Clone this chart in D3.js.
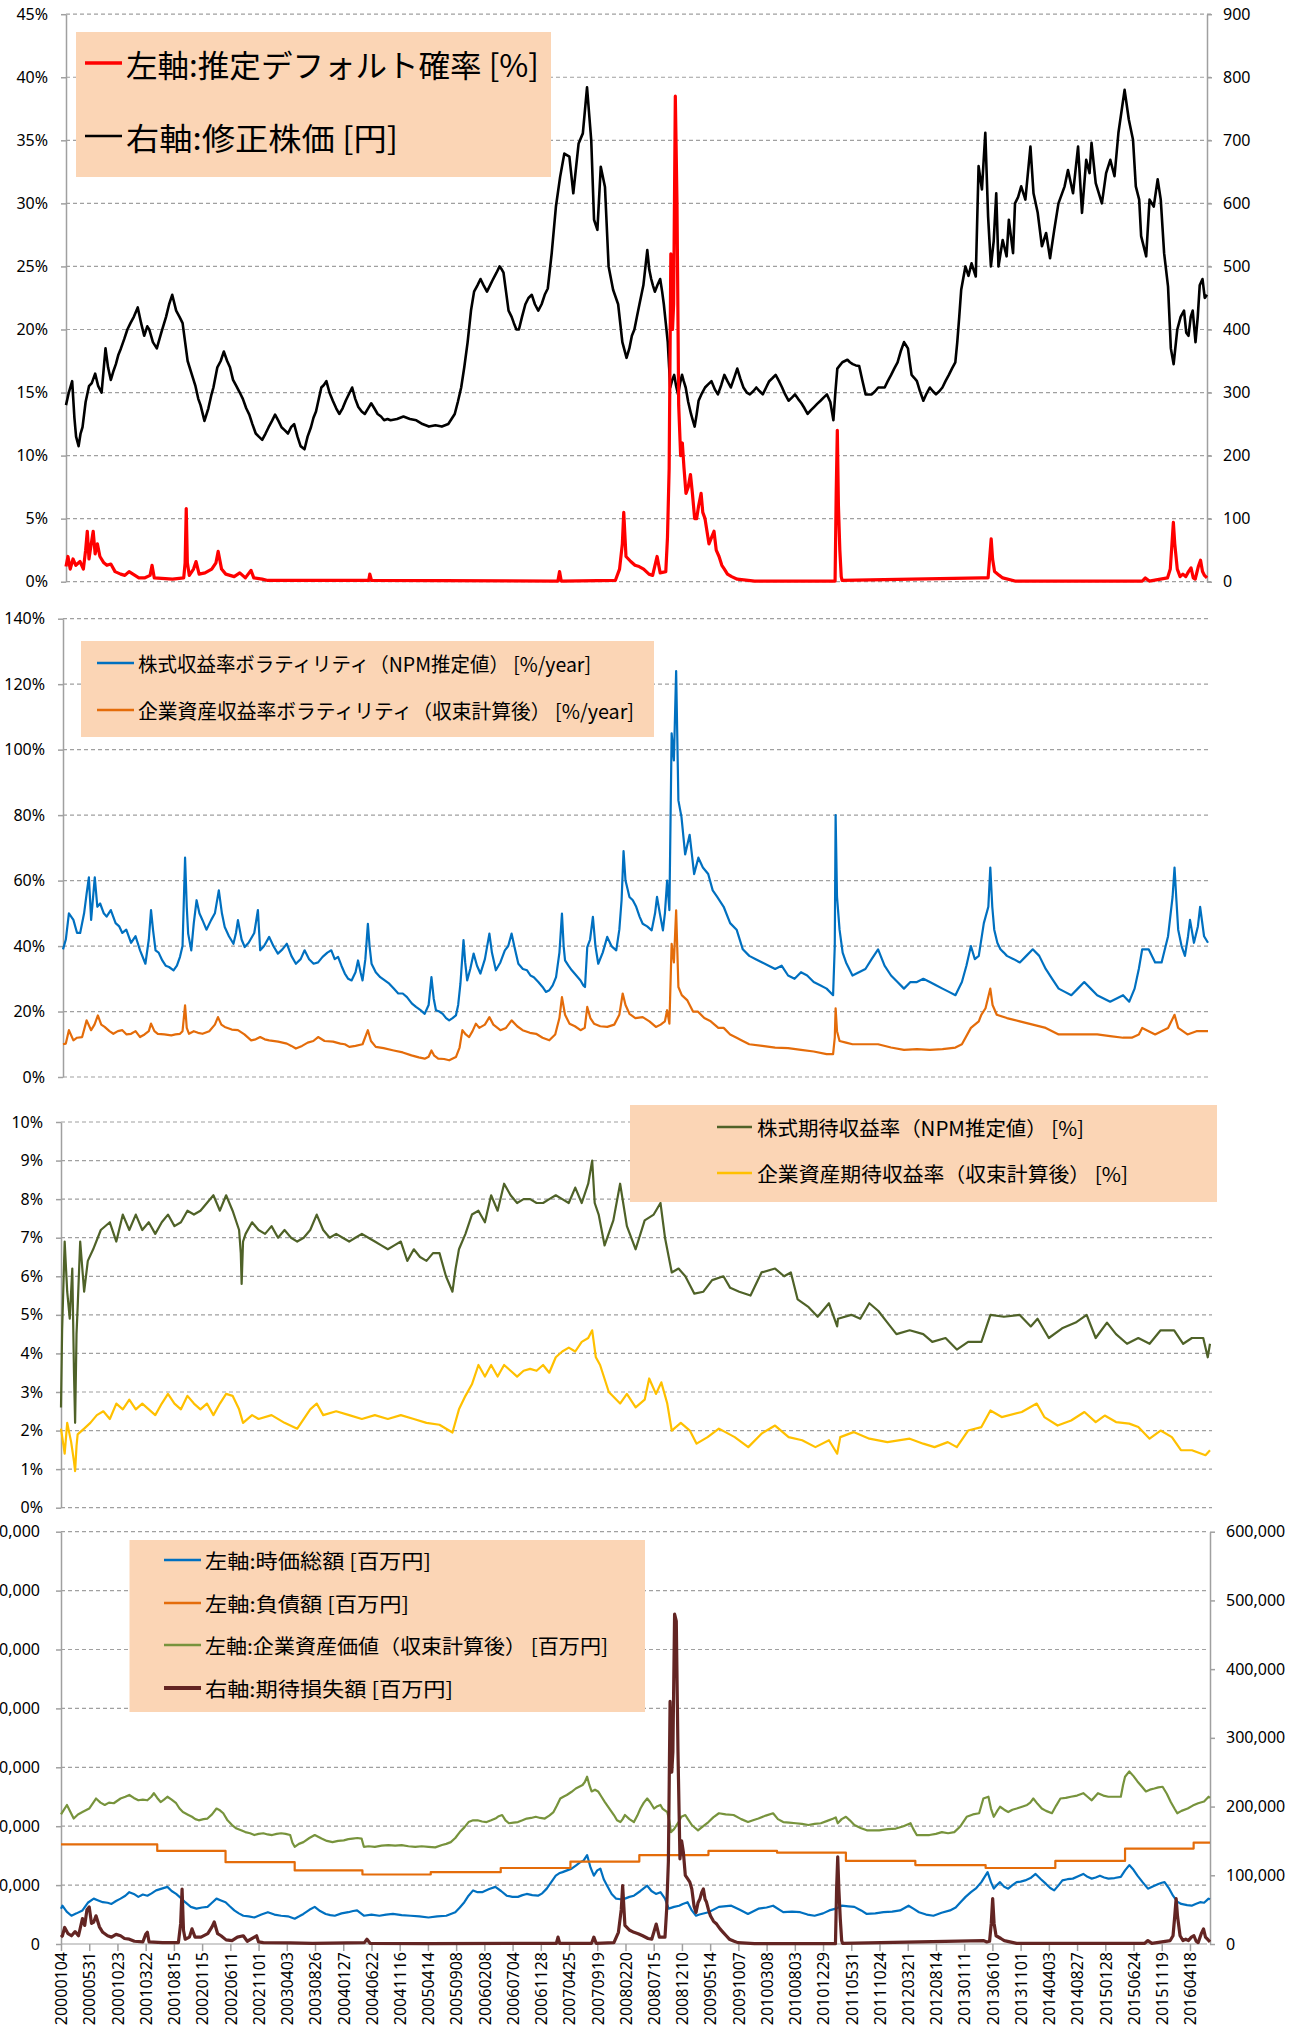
<!DOCTYPE html>
<html lang="ja">
<head>
<meta charset="utf-8">
<title>推定デフォルト確率と企業資産</title>
<script src="https://d3js.org/d3.v7.min.js"></script>
<style>
  body { margin: 0; background: #fff; }
  .tick text { font-family: "Noto Sans", sans-serif; font-size: 16px; fill: #000; }
  .legend text { font-family: "Noto Sans CJK JP", sans-serif; fill: #000; }
</style>
</head>
<body>
<svg width="1303" height="2026"></svg>
<script>
// ---- data (x = trading day index from 2000-01-04) ----
var nDays = 4072;
var dateLabels = ["20000104","20000531","20001023","20010322","20010815","20020115","20020611","20021101",
  "20030403","20030826","20040127","20040622","20041116","20050414","20050908","20060208","20060704",
  "20061128","20070425","20070919","20080220","20080715","20081210","20090514","20091007","20100308",
  "20100803","20101229","20110531","20111024","20120321","20120814","20130111","20130610","20131101",
  "20140403","20140827","20150128","20150624","20151119","20160418"];

// panel 1: 推定デフォルト確率 [%] (left) / 修正株価 [円] (right)
var defaultProb = [[0,1.2],[7,2.0],[15,1.0],[25,1.8],[35,1.3],[50,1.6],[62,1.0],[70,2.5],[76,4.0],[82,1.8],[90,3.0],[97,4.0],[104,2.2],[112,3.0],[121,2.0],[135,1.5],[146,1.3],[160,1.4],[175,0.8],[195,0.6],[210,0.5],[225,0.8],[239,0.6],[260,0.3],[280,0.3],[300,0.5],[307,1.3],[315,0.3],[380,0.2],[420,0.3],[425,1.5],[429,5.8],[433,1.5],[440,0.5],[455,1.0],[464,1.6],[475,0.6],[496,0.7],[520,1.0],[535,1.5],[543,2.4],[555,1.0],[570,0.6],[600,0.4],[620,0.7],[640,0.3],[660,0.9],[670,0.3],[700,0.2],[720,0.1],[1080,0.1],[1084,0.6],[1090,0.1],[1755,0.05],[1761,0.8],[1767,0.05],[1960,0.1],[1975,1.0],[1985,3.0],[1990,5.5],[1998,2.0],[2015,1.6],[2030,1.3],[2045,1.2],[2061,1.0],[2080,0.6],[2093,0.5],[2109,2.0],[2120,0.7],[2140,0.8],[2146,3.5],[2152,9],[2158,26],[2164,20],[2168,22],[2174,38.5],[2180,30],[2186,14],[2193,10],[2199,11],[2205,9],[2212,7],[2220,7.5],[2228,8.5],[2235,7],[2243,5],[2250,5],[2257,6],[2266,7],[2272,5.5],[2280,5],[2287,4],[2294,3],[2303,3.5],[2312,4],[2320,2.5],[2330,2],[2340,1.3],[2349,1],[2360,0.6],[2375,0.4],[2395,0.2],[2457,0.05],[2744,0.05],[2748,7],[2752,12],[2756,6],[2761,2.5],[2766,0.4],[2769,0.1],[3268,0.3],[3290,0.3],[3296,2],[3301,3.4],[3306,1.8],[3313,0.8],[3330,0.5],[3342,0.3],[3386,0.05],[3840,0.05],[3851,0.3],[3865,0.05],[3930,0.3],[3940,1],[3946,3],[3951,4.7],[3956,3],[3965,1],[3975,0.4],[3985,0.6],[3995,0.4],[4005,0.8],[4014,1.1],[4022,0.3],[4029,0.2],[4040,1.2],[4048,1.7],[4055,0.8],[4062,0.5],[4071,0.3]];

var stockPrice = [[0,280],[10,300],[22,318],[30,260],[36,230],[45,215],[52,235],[59,245],[70,285],[82,310],[92,315],[104,330],[115,310],[127,300],[141,370],[150,340],[160,320],[170,335],[178,345],[187,360],[196,370],[208,385],[219,400],[230,410],[242,420],[256,435],[268,410],[279,390],[290,405],[297,400],[310,380],[324,370],[340,395],[357,420],[368,440],[379,455],[393,430],[405,420],[416,410],[425,380],[434,350],[448,330],[462,310],[472,290],[480,280],[494,255],[508,275],[518,295],[526,308],[540,340],[552,350],[563,365],[575,350],[585,340],[596,320],[608,310],[620,300],[631,290],[643,275],[654,265],[665,250],[677,235],[688,230],[700,225],[712,235],[723,245],[735,255],[746,265],[758,255],[769,245],[781,240],[792,235],[803,245],[814,250],[826,230],[837,215],[851,210],[862,230],[874,245],[883,260],[892,270],[902,290],[911,308],[920,312],[929,318],[940,300],[952,287],[964,275],[975,266],[987,275],[998,287],[1010,298],[1021,308],[1032,290],[1043,277],[1055,270],[1066,266],[1078,275],[1089,283],[1100,275],[1112,266],[1124,262],[1135,256],[1147,258],[1158,256],[1181,258],[1204,262],[1227,258],[1250,256],[1272,250],[1295,246],[1318,248],[1341,246],[1364,250],[1387,266],[1398,285],[1410,308],[1421,340],[1433,380],[1445,430],[1456,460],[1468,470],[1479,480],[1490,470],[1502,460],[1513,470],[1524,480],[1536,490],[1547,500],[1555,495],[1561,490],[1570,460],[1579,430],[1590,420],[1598,410],[1607,400],[1616,400],[1627,420],[1639,440],[1650,450],[1662,455],[1673,440],[1685,430],[1697,440],[1708,455],[1719,465],[1733,521],[1748,595],[1763,642],[1778,679],[1796,674],[1810,616],[1829,695],[1844,711],[1859,784],[1874,700],[1884,574],[1896,558],[1908,658],[1923,626],[1936,500],[1952,463],[1970,440],[1985,380],[2000,355],[2010,370],[2019,390],[2028,400],[2037,420],[2046,440],[2060,470],[2074,526],[2081,495],[2088,480],[2094,470],[2101,460],[2110,470],[2120,480],[2127,460],[2133,440],[2140,410],[2147,380],[2152,340],[2156,308],[2163,320],[2170,328],[2177,310],[2184,297],[2191,315],[2198,328],[2204,318],[2211,308],[2220,285],[2230,266],[2237,255],[2243,246],[2250,265],[2257,287],[2268,298],[2280,308],[2291,313],[2303,318],[2315,305],[2326,297],[2338,312],[2349,328],[2360,318],[2372,308],[2383,322],[2395,338],[2406,322],[2417,308],[2429,300],[2440,297],[2452,302],[2463,308],[2475,302],[2486,297],[2498,308],[2509,318],[2521,323],[2532,328],[2544,318],[2555,308],[2566,297],[2578,287],[2590,292],[2601,297],[2612,290],[2624,283],[2635,275],[2646,266],[2658,272],[2669,277],[2680,282],[2692,287],[2703,292],[2715,297],[2727,285],[2738,256],[2745,300],[2752,338],[2761,343],[2770,348],[2779,350],[2788,352],[2797,348],[2807,345],[2818,343],[2830,342],[2841,320],[2853,297],[2864,297],[2875,297],[2887,302],[2898,308],[2910,308],[2921,308],[2932,318],[2944,328],[2955,338],[2967,348],[2978,365],[2990,380],[2997,375],[3004,370],[3010,350],[3017,328],[3027,323],[3036,318],[3047,302],[3059,287],[3070,298],[3082,308],[3093,302],[3104,297],[3116,302],[3127,308],[3138,318],[3150,328],[3161,338],[3173,348],[3180,380],[3187,420],[3194,463],[3209,500],[3220,485],[3231,505],[3246,484],[3256,659],[3268,622],[3280,712],[3290,579],[3300,500],[3310,540],[3319,616],[3327,500],[3342,542],[3356,516],[3364,574],[3379,521],[3386,600],[3397,610],[3408,627],[3423,606],[3441,690],[3452,616],[3467,585],[3482,532],[3497,553],[3511,513],[3526,558],[3541,600],[3563,627],[3575,653],[3593,616],[3611,690],[3625,585],[3640,669],[3652,648],[3659,696],[3674,632],[3696,600],[3711,648],[3726,669],[3741,643],[3755,712],[3777,780],[3792,733],[3807,701],[3817,627],[3829,606],[3836,548],[3854,516],[3866,606],[3881,595],[3895,638],[3906,606],[3918,521],[3932,468],[3942,370],[3952,345],[3965,400],[3977,420],[3989,430],[3997,395],[4005,390],[4013,420],[4020,430],[4030,380],[4038,420],[4045,470],[4055,480],[4063,450],[4071,455]];

// panel 2: ボラティリティ [%/year]
var equityVol = [[0,39],[10,42],[21,50],[37,48],[50,44],[61,44],[75,50],[84,56],[92,61],[100,48],[113,61],[122,52],[132,53],[145,50],[155,49],[170,51],[187,47],[200,46],[211,44],[225,45],[242,41],[258,43],[274,38.7],[293,34.6],[305,42],[313,51],[320,45],[329,38.7],[340,38],[353,35.6],[365,34],[377,33.6],[393,32.6],[405,34],[416,36.7],[425,40],[434,67],[440,52],[445,43.8],[456,38.7],[465,47],[475,54],[485,50],[496,47.9],[510,45],[527,48],[540,50],[554,57],[565,50],[575,45.8],[590,43],[606,40.7],[615,44],[622,47.9],[635,42],[646,39.7],[660,41],[680,44],[693,51],[701,38.7],[715,40],[733,42.8],[748,40],[764,37.7],[780,39],[796,40.7],[812,37],[828,34.6],[845,36],[859,38.7],[875,36],[891,34.6],[907,35],[923,36.7],[940,38],[954,38.7],[966,36],[978,36.7],[990,34],[1002,31.6],[1014,30],[1026,29.5],[1040,32],[1049,35.6],[1058,32],[1065,29.5],[1075,36],[1084,46.8],[1090,40],[1097,34.6],[1112,32],[1128,30.5],[1144,29.5],[1160,28.5],[1176,27],[1192,25.5],[1208,25.5],[1223,24.4],[1240,22.5],[1255,21.4],[1270,20.5],[1286,19.3],[1300,22],[1310,30.5],[1318,24],[1326,20.4],[1338,20],[1350,19.3],[1362,18],[1373,17.3],[1385,18],[1397,18.8],[1405,22],[1413,28.5],[1424,41.8],[1430,35],[1437,29.5],[1448,33],[1460,37.7],[1472,34],[1484,31.6],[1500,36],[1516,43.8],[1525,38],[1539,32.6],[1555,35],[1571,38.7],[1583,40],[1595,43.8],[1607,39],[1619,34.6],[1635,33],[1650,32.6],[1662,31],[1674,30.5],[1690,29],[1705,27.5],[1717,26],[1729,26.5],[1741,28],[1753,30.5],[1765,38],[1774,49.9],[1780,40],[1785,35.6],[1797,34],[1809,32.6],[1825,31],[1840,29.5],[1850,28],[1856,27.5],[1864,39.7],[1874,42],[1884,48.9],[1893,40],[1903,34.6],[1919,38],[1935,42.8],[1950,40],[1967,38.7],[1978,45],[1986,54],[1993,69],[2000,60],[2014,55],[2026,54],[2038,52],[2050,49],[2061,46.8],[2077,46],[2093,44.8],[2105,50],[2112,55],[2122,50],[2133,44.8],[2140,50],[2148,60],[2156,51],[2164,105],[2172,96.7],[2180,124],[2188,84.5],[2199,79.4],[2212,68],[2228,74],[2244,62],[2259,67],[2275,64],[2294,62],[2310,57],[2326,55],[2349,52],[2372,47],[2395,45],[2417,39],[2440,37],[2463,36],[2486,35],[2509,34],[2532,33],[2555,34],[2578,31],[2601,30],[2624,32],[2646,31],[2669,29],[2692,28],[2715,27],[2738,25],[2744,40],[2747,80],[2752,55],[2761,45],[2772,38],[2784,35],[2807,31],[2830,32],[2853,33],[2875,36],[2898,39],[2921,34],[2944,31],[2967,29],[2990,27],[3013,29],[3036,29],[3059,30],[3082,29],[3104,28],[3127,27],[3150,26],[3173,25],[3196,29],[3212,34],[3228,40],[3242,36],[3256,37],[3274,47],[3290,52],[3297,64],[3304,52],[3311,45],[3322,41],[3333,39],[3345,38],[3356,37],[3380,36],[3402,35],[3425,37],[3448,39],[3471,37],[3494,33],[3517,30],[3540,27],[3562,26],[3585,25],[3608,27],[3631,29],[3654,27],[3677,25],[3700,24],[3723,23],[3746,24],[3769,25],[3791,23],[3810,27],[3825,33],[3837,39],[3860,39],[3883,35],[3906,35],[3929,43],[3945,55],[3952,64],[3958,55],[3965,45],[3977,40],[3989,37],[4000,43],[4007,48],[4021,41],[4035,46],[4043,52],[4057,43],[4071,41]];

var assetVol = [[0,10],[10,10.2],[21,14.3],[37,11.2],[50,12],[68,12.2],[84,17.3],[100,14.3],[112,16],[124,18.8],[136,16],[148,15.3],[165,14],[179,13.2],[195,14],[211,14.3],[226,13],[242,13.2],[258,14],[274,12.2],[290,13],[305,14],[313,16.3],[325,14],[337,13.2],[360,13],[385,12.7],[400,13],[416,13.2],[425,14],[434,21.9],[440,15],[448,13.2],[465,14],[480,13.5],[496,13.2],[520,14],[540,16],[551,18.3],[563,16],[575,15.3],[600,14.5],[622,14.3],[645,13],[669,11.2],[685,11.5],[701,12.2],[717,11.5],[733,11.2],[765,10.8],[796,10.2],[812,9.5],[828,8.7],[850,9.5],[870,10.5],[890,11],[907,12.2],[930,11],[960,10.8],[986,10.2],[1002,10],[1018,9.2],[1040,9.5],[1065,10],[1084,14.3],[1095,11],[1112,9.2],[1140,8.8],[1176,8.1],[1208,7.5],[1239,6.6],[1265,6],[1286,5.6],[1300,6.2],[1310,8.1],[1320,6.5],[1334,5.6],[1355,5.5],[1373,5.1],[1397,6.1],[1410,9],[1420,14.3],[1432,13],[1444,12.2],[1456,14],[1468,16.3],[1480,15],[1500,16],[1516,18.3],[1530,16],[1555,14.3],[1575,15],[1595,17.3],[1615,15.5],[1634,14.3],[1660,13.5],[1682,13.2],[1705,12],[1729,11.2],[1750,13],[1765,18],[1774,24.4],[1785,19],[1801,16.3],[1820,15.5],[1840,14.3],[1855,15],[1864,21.4],[1875,18],[1888,16.3],[1910,15.5],[1935,15.3],[1960,16],[1978,19],[1990,25.5],[2000,22],[2014,19.3],[2035,18],[2061,18.3],[2085,17],[2108,15.3],[2125,16],[2140,17],[2148,20.4],[2156,16.3],[2164,40.7],[2172,35],[2180,50.9],[2188,27.5],[2200,25],[2220,23.4],[2240,20],[2257,20],[2280,18],[2303,17],[2330,15],[2349,15],[2372,13],[2395,12],[2417,11],[2440,10],[2486,9.5],[2532,9],[2578,8.8],[2624,8.3],[2669,7.8],[2715,7],[2738,7],[2744,12],[2747,21],[2752,14],[2761,11],[2784,10.5],[2807,10],[2853,10],[2898,10],[2944,9],[2990,8.3],[3036,8.5],[3082,8.3],[3127,8.5],[3173,9],[3196,10],[3228,15],[3256,17],[3265,19],[3280,21],[3297,27],[3305,22],[3320,19],[3356,18],[3402,17],[3448,16],[3494,15],[3540,13],[3585,13],[3631,13],[3677,13],[3723,12.5],[3769,12],[3800,12],[3825,13],[3837,15],[3883,13],[3929,15],[3952,19],[3965,15],[3998,13],[4030,14],[4071,14]];

// panel 3: 期待収益率 [%]
var equityRet = [[0,2.6],[4,4.6],[13,6.9],[22,5.6],[31,4.9],[40,6.2],[46,3.5],[50,2.2],[55,4.5],[59,5.2],[68,6.9],[82,5.6],[95,6.4],[114,6.7],[141,7.2],[173,7.4],[196,6.9],[219,7.6],[242,7.2],[265,7.6],[288,7.2],[311,7.4],[334,7.1],[357,7.4],[379,7.6],[402,7.3],[425,7.4],[448,7.7],[471,7.6],[494,7.7],[517,7.9],[540,8.1],[563,7.7],[585,8.1],[608,7.7],[631,7.2],[637,6.6],[640,5.8],[645,6.9],[654,7.1],[677,7.4],[700,7.2],[723,7.1],[746,7.3],[769,7.0],[792,7.2],[815,7.0],[837,6.9],[860,7.0],[883,7.2],[906,7.6],[929,7.2],[952,7.0],[975,7.1],[998,7.0],[1021,6.9],[1043,7.0],[1066,7.1],[1089,7.0],[1112,6.9],[1135,6.8],[1158,6.7],[1181,6.8],[1204,6.9],[1227,6.4],[1250,6.7],[1272,6.5],[1295,6.4],[1318,6.6],[1341,6.6],[1364,6.0],[1387,5.6],[1398,6.2],[1410,6.7],[1433,7.1],[1456,7.6],[1479,7.7],[1502,7.4],[1524,8.1],[1547,7.7],[1570,8.4],[1593,8.1],[1616,7.9],[1639,8.0],[1662,8.0],[1685,7.9],[1708,7.9],[1730,8.0],[1753,8.1],[1776,8.0],[1799,7.9],[1822,8.3],[1845,7.9],[1868,8.4],[1882,9.0],[1891,7.9],[1905,7.6],[1926,6.8],[1957,7.45],[1981,8.4],[2005,7.3],[2036,6.7],[2068,7.45],[2100,7.6],[2124,7.9],[2140,7.0],[2164,6.1],[2188,6.2],[2212,6.0],[2244,5.55],[2276,5.6],[2307,5.9],[2347,6.0],[2371,5.7],[2403,5.6],[2443,5.5],[2482,6.1],[2530,6.2],[2562,6.0],[2586,6.1],[2610,5.4],[2649,5.2],[2681,4.95],[2721,5.3],[2750,4.7],[2753,4.9],[2800,5.0],[2832,4.9],[2864,5.3],[2896,5.1],[2928,4.8],[2960,4.5],[3007,4.6],[3055,4.5],[3087,4.3],[3134,4.4],[3174,4.1],[3214,4.3],[3261,4.3],[3293,5.0],[3341,4.95],[3396,5.0],[3436,4.7],[3460,4.9],[3500,4.4],[3547,4.65],[3595,4.8],[3634,5.0],[3666,4.4],[3706,4.8],[3738,4.5],[3777,4.25],[3817,4.4],[3857,4.25],[3896,4.6],[3944,4.6],[3976,4.25],[4007,4.4],[4047,4.4],[4063,3.9],[4071,4.25]];

var assetRet = [[0,2.05],[13,1.4],[22,2.2],[36,1.7],[46,1.2],[50,0.95],[55,1.6],[59,1.9],[82,2.05],[104,2.2],[127,2.4],[150,2.5],[173,2.3],[196,2.7],[219,2.55],[242,2.8],[265,2.55],[288,2.7],[311,2.55],[334,2.4],[357,2.7],[379,2.95],[402,2.7],[425,2.55],[448,2.9],[471,2.7],[494,2.55],[517,2.7],[540,2.4],[563,2.7],[585,2.95],[608,2.9],[631,2.55],[645,2.2],[677,2.4],[700,2.3],[746,2.4],[792,2.2],[837,2.05],[883,2.55],[906,2.7],[929,2.4],[975,2.5],[1021,2.4],[1066,2.3],[1112,2.4],[1158,2.3],[1204,2.4],[1250,2.3],[1295,2.2],[1341,2.15],[1387,1.95],[1410,2.55],[1433,2.9],[1456,3.2],[1479,3.7],[1502,3.4],[1524,3.7],[1547,3.4],[1570,3.7],[1593,3.55],[1616,3.4],[1639,3.55],[1662,3.6],[1685,3.55],[1708,3.7],[1730,3.5],[1753,3.9],[1776,4.05],[1799,4.15],[1822,4.05],[1845,4.3],[1868,4.4],[1882,4.6],[1895,3.9],[1910,3.7],[1941,3.0],[1981,2.7],[2005,2.95],[2036,2.6],[2068,2.8],[2084,3.35],[2108,2.95],[2127,3.25],[2148,2.7],[2164,2.0],[2196,2.2],[2228,2.0],[2252,1.66],[2291,1.83],[2331,2.05],[2387,1.83],[2435,1.57],[2482,1.92],[2530,2.13],[2578,1.83],[2626,1.75],[2673,1.57],[2721,1.75],[2750,1.4],[2761,1.83],[2808,1.96],[2864,1.79],[2928,1.7],[3007,1.79],[3055,1.66],[3095,1.57],[3142,1.7],[3174,1.57],[3214,2.0],[3261,2.09],[3293,2.52],[3333,2.35],[3404,2.48],[3457,2.7],[3484,2.35],[3531,2.13],[3579,2.26],[3626,2.48],[3666,2.22],[3698,2.39],[3738,2.22],[3785,2.18],[3817,2.09],[3857,1.79],[3896,2.0],[3936,1.83],[3968,1.49],[4007,1.49],[4055,1.36],[4071,1.49]];

// panel 4: [百万円]  left axis in units of 1,000,000, right axis in thousands
var marketCap = [[0,0.6],[5,0.65],[20,0.55],[37,0.48],[55,0.52],[76,0.57],[95,0.7],[116,0.77],[132,0.74],[148,0.71],[165,0.7],[179,0.68],[195,0.73],[211,0.77],[228,0.82],[242,0.88],[258,0.85],[274,0.80],[290,0.84],[306,0.82],[321,0.86],[337,0.91],[357,0.94],[377,0.97],[392,0.9],[408,0.85],[425,0.78],[440,0.71],[460,0.63],[480,0.60],[500,0.62],[519,0.63],[535,0.7],[551,0.77],[567,0.74],[583,0.71],[598,0.64],[614,0.57],[630,0.52],[646,0.48],[665,0.47],[685,0.45],[710,0.5],[733,0.54],[756,0.5],[780,0.48],[804,0.47],[828,0.43],[844,0.47],[859,0.51],[880,0.58],[899,0.63],[918,0.56],[938,0.51],[954,0.49],[970,0.48],[994,0.52],[1018,0.54],[1035,0.56],[1049,0.57],[1073,0.48],[1100,0.5],[1128,0.48],[1152,0.5],[1176,0.51],[1207,0.49],[1239,0.48],[1270,0.47],[1302,0.45],[1333,0.47],[1365,0.48],[1397,0.54],[1413,0.62],[1429,0.71],[1444,0.82],[1460,0.91],[1476,0.88],[1492,0.88],[1515,0.93],[1539,0.97],[1559,0.9],[1579,0.82],[1599,0.8],[1619,0.80],[1635,0.83],[1650,0.85],[1670,0.83],[1690,0.82],[1705,0.86],[1721,0.94],[1737,1.05],[1753,1.16],[1765,1.2],[1777,1.22],[1793,1.25],[1809,1.28],[1824,1.33],[1840,1.39],[1852,1.42],[1864,1.51],[1876,1.3],[1888,1.16],[1900,1.25],[1911,1.28],[1923,1.1],[1935,0.99],[1951,0.85],[1967,0.77],[1982,0.76],[1998,0.77],[2014,0.8],[2030,0.82],[2053,0.9],[2077,0.99],[2092,0.9],[2108,0.85],[2124,0.88],[2140,0.77],[2153,0.6],[2172,0.63],[2190,0.65],[2203,0.68],[2220,0.71],[2235,0.57],[2250,0.48],[2262,0.5],[2294,0.54],[2331,0.63],[2375,0.65],[2405,0.58],[2434,0.51],[2471,0.60],[2500,0.62],[2523,0.65],[2559,0.54],[2590,0.55],[2619,0.54],[2645,0.5],[2670,0.48],[2700,0.52],[2722,0.57],[2745,0.6],[2766,0.65],[2790,0.64],[2811,0.63],[2835,0.57],[2855,0.51],[2885,0.52],[2914,0.54],[2945,0.55],[2973,0.57],[3003,0.65],[3020,0.6],[3040,0.54],[3065,0.5],[3091,0.48],[3120,0.53],[3150,0.57],[3170,0.62],[3187,0.71],[3205,0.8],[3224,0.88],[3243,0.95],[3261,1.05],[3283,1.22],[3295,1.05],[3305,0.94],[3316,1.0],[3327,1.05],[3342,0.97],[3356,0.94],[3371,1.0],[3386,1.05],[3400,1.06],[3416,1.08],[3435,1.12],[3453,1.19],[3472,1.1],[3490,1.02],[3505,0.95],[3519,0.91],[3535,1.0],[3548,1.08],[3566,1.1],[3585,1.11],[3604,1.15],[3622,1.19],[3637,1.14],[3652,1.11],[3666,1.13],[3681,1.16],[3696,1.13],[3711,1.11],[3733,1.12],[3755,1.14],[3770,1.25],[3785,1.34],[3800,1.26],[3814,1.16],[3832,1.05],[3851,0.94],[3870,0.98],[3888,1.02],[3900,1.04],[3910,1.05],[3925,0.95],[3940,0.82],[3955,0.72],[3969,0.68],[3990,0.66],[4006,0.65],[4020,0.68],[4036,0.71],[4050,0.7],[4066,0.77],[4071,0.76]];

// 負債額: value holds from each start day until the next one
var liabilitySteps = [[0,1.69],[341,1.58],[583,1.39],[828,1.25],[1068,1.18],[1310,1.22],[1558,1.29],[1805,1.40],[2049,1.51],[2294,1.58],[2537,1.55],[2781,1.41],[3027,1.34],[3276,1.29],[3523,1.41],[3770,1.62],[4013,1.72]];

var assetValue = [[0,2.2],[5,2.24],[21,2.36],[45,2.13],[60,2.2],[76,2.24],[100,2.30],[124,2.47],[140,2.4],[155,2.36],[170,2.4],[187,2.39],[211,2.47],[228,2.5],[242,2.53],[258,2.48],[274,2.44],[290,2.45],[306,2.44],[320,2.5],[329,2.56],[341,2.48],[353,2.41],[365,2.45],[377,2.50],[392,2.45],[408,2.39],[420,2.3],[432,2.24],[448,2.2],[464,2.16],[476,2.12],[488,2.10],[505,2.12],[519,2.13],[535,2.2],[551,2.30],[563,2.27],[575,2.22],[590,2.10],[606,2.02],[622,1.96],[638,1.93],[653,1.90],[670,1.88],[685,1.85],[700,1.87],[717,1.88],[732,1.86],[748,1.85],[764,1.87],[780,1.88],[796,1.87],[812,1.85],[820,1.72],[828,1.65],[843,1.7],[859,1.73],[880,1.8],[899,1.85],[911,1.82],[923,1.79],[942,1.75],[962,1.73],[982,1.75],[1002,1.76],[1018,1.78],[1033,1.79],[1050,1.8],[1065,1.79],[1073,1.65],[1090,1.66],[1112,1.65],[1136,1.67],[1160,1.68],[1184,1.67],[1207,1.68],[1231,1.66],[1255,1.65],[1278,1.66],[1302,1.65],[1326,1.64],[1350,1.68],[1365,1.7],[1381,1.73],[1397,1.8],[1413,1.90],[1429,1.98],[1444,2.07],[1460,2.1],[1476,2.10],[1492,2.08],[1508,2.07],[1524,2.1],[1539,2.13],[1551,2.17],[1563,2.19],[1575,2.1],[1587,2.05],[1603,2.06],[1619,2.07],[1635,2.1],[1650,2.13],[1666,2.14],[1682,2.16],[1698,2.14],[1714,2.13],[1730,2.18],[1745,2.24],[1757,2.35],[1769,2.47],[1780,2.5],[1792,2.53],[1808,2.58],[1824,2.64],[1836,2.67],[1848,2.70],[1856,2.75],[1864,2.84],[1872,2.7],[1880,2.59],[1892,2.62],[1903,2.59],[1915,2.5],[1927,2.41],[1943,2.3],[1959,2.19],[1970,2.1],[1982,2.07],[1990,2.12],[1998,2.19],[2014,2.12],[2030,2.07],[2042,2.18],[2053,2.30],[2065,2.4],[2077,2.47],[2087,2.41],[2101,2.30],[2113,2.34],[2124,2.36],[2131,2.3],[2148,2.24],[2155,2.1],[2161,1.90],[2172,1.95],[2188,2.07],[2198,2.16],[2212,2.19],[2220,2.13],[2235,2.02],[2247,1.97],[2257,1.93],[2270,1.98],[2294,2.07],[2311,2.15],[2331,2.22],[2355,2.2],[2383,2.19],[2410,2.12],[2434,2.07],[2452,2.1],[2471,2.13],[2497,2.18],[2523,2.22],[2540,2.12],[2559,2.07],[2580,2.06],[2604,2.05],[2625,2.04],[2648,2.02],[2670,2.04],[2692,2.05],[2715,2.09],[2737,2.13],[2745,2.15],[2752,2.05],[2766,2.12],[2781,2.16],[2795,2.1],[2811,2.02],[2833,1.97],[2855,1.93],[2877,1.93],[2899,1.93],[2930,1.95],[2958,1.96],[2985,2.0],[3010,2.05],[3020,1.95],[3032,1.85],[3055,1.85],[3077,1.85],[3100,1.87],[3121,1.90],[3143,1.88],[3165,1.90],[3187,2.0],[3209,2.16],[3231,2.2],[3253,2.22],[3268,2.47],[3286,2.50],[3295,2.3],[3305,2.16],[3316,2.25],[3327,2.33],[3342,2.28],[3356,2.24],[3371,2.28],[3386,2.30],[3405,2.33],[3423,2.36],[3434,2.4],[3445,2.47],[3460,2.38],[3475,2.30],[3490,2.26],[3511,2.22],[3526,2.35],[3541,2.47],[3560,2.48],[3578,2.50],[3600,2.52],[3622,2.56],[3637,2.5],[3652,2.44],[3663,2.5],[3674,2.56],[3693,2.52],[3711,2.50],[3733,2.5],[3755,2.50],[3763,2.7],[3770,2.84],[3785,2.93],[3800,2.85],[3814,2.76],[3830,2.67],[3844,2.59],[3858,2.62],[3874,2.64],[3888,2.66],[3903,2.67],[3918,2.55],[3932,2.41],[3945,2.3],[3955,2.22],[3970,2.26],[3992,2.30],[4010,2.35],[4029,2.39],[4050,2.42],[4066,2.50],[4071,2.48]];

var expectedLoss = [[0,10],[5,12],[13,24],[25,15],[37,12],[50,18],[62,12],[76,37],[84,27],[92,50],[100,54],[108,30],[116,32],[124,41],[136,25],[148,17],[165,12],[179,10],[195,14],[211,12],[225,8],[242,7],[260,4],[290,3],[300,14],[306,17],[312,3],[360,2],[416,2],[424,30],[429,80],[434,20],[440,7],[455,10],[464,22],[475,10],[496,10],[520,15],[535,25],[543,32],[555,15],[567,12],[585,6],[606,5],[625,10],[646,12],[660,4],[693,12],[700,3],[717,2],[812,1.5],[891,1],[1075,2],[1084,7],[1095,1],[1300,0.5],[1755,1],[1761,10],[1767,1],[1880,1],[1888,10],[1896,1],[1959,2],[1975,17],[1985,50],[1990,85],[1998,27],[2015,20],[2030,17],[2045,15],[2061,12],[2080,8],[2093,7],[2109,29],[2120,10],[2140,10],[2146,51],[2152,120],[2158,353],[2164,250],[2168,280],[2174,480],[2180,470],[2186,280],[2193,124],[2199,150],[2205,134],[2212,100],[2220,95],[2228,90],[2235,80],[2243,55],[2250,46],[2257,60],[2264,66],[2270,75],[2276,80],[2282,65],[2287,61],[2294,50],[2301,41],[2312,33],[2323,29],[2335,22],[2346,17],[2357,12],[2368,7],[2385,4],[2398,2],[2457,0.5],[2744,0.5],[2748,80],[2752,127],[2756,80],[2761,37],[2766,5],[2769,1],[3268,5],[3280,3],[3290,4],[3296,30],[3301,66],[3306,30],[3313,12],[3330,8],[3342,5],[3386,1],[3840,1],[3851,5],[3865,1],[3930,5],[3940,12],[3946,40],[3951,66],[3956,40],[3965,12],[3975,5],[3985,7],[3995,5],[4005,10],[4014,12],[4022,4],[4029,2],[4040,15],[4048,22],[4055,10],[4062,7],[4071,3]];

// ---- drawing ----
var svg = d3.select("svg");
var gridColor = "#a0a0a0", axisColor = "#a0a0a0";

function drawPanel(p) {
  var g = svg.append("g");
  var x = d3.scaleLinear().domain([0, nDays - 1]).range([p.left, p.right]);
  var yL = d3.scaleLinear().domain(p.leftDomain).range([p.bottom, p.top]);
  var leftTicks = d3.range(p.leftDomain[0], p.leftDomain[1] + p.leftStep / 2, p.leftStep);

  // dashed gridlines (the last panel has a solid base line)
  g.append("g").selectAll("line").data(leftTicks).join("line")
    .attr("x1", p.left).attr("x2", p.gridEnd)
    .attr("y1", d => yL(d)).attr("y2", d => yL(d))
    .attr("stroke", gridColor).attr("stroke-width", 1.2)
    .attr("stroke-dasharray", d => (d === 0 && p.dateAxis) ? null : "4,3");

  var ax = g.append("g").attr("transform", "translate(" + p.left + ",0)")
    .call(d3.axisLeft(yL).tickValues(leftTicks).tickFormat(p.leftFmt).tickSize(5).tickSizeOuter(0).tickPadding(p.pad || 13));
  ax.selectAll("line, path").attr("stroke", axisColor).attr("stroke-width", 1.5);

  var yR = null;
  if (p.rightDomain) {
    yR = d3.scaleLinear().domain(p.rightDomain).range([p.bottom, p.top]);
    var rightTicks = d3.range(p.rightDomain[0], p.rightDomain[1] + p.rightStep / 2, p.rightStep);
    var ar = g.append("g").attr("transform", "translate(" + p.right + ",0)")
      .call(d3.axisRight(yR).tickValues(rightTicks).tickFormat(p.rightFmt).tickSize(5).tickSizeOuter(0).tickPadding(11));
    ar.selectAll("line, path").attr("stroke", axisColor).attr("stroke-width", 1.5);
  }

  if (p.dateAxis) {
    var xa = g.append("g").attr("transform", "translate(0," + p.bottom + ")")
      .call(d3.axisBottom(x).tickValues(d3.range(0, dateLabels.length * 100, 100))
        .tickFormat(i => dateLabels[i / 100]).tickSize(7).tickSizeOuter(0));
    xa.select(".domain").remove();
    xa.selectAll("line").attr("stroke", axisColor).attr("stroke-width", 1.5);
    xa.selectAll("text").attr("transform", "rotate(-90)")
      .attr("x", -8).attr("y", 0).attr("dy", "0.36em").style("text-anchor", "end");
  }

  p.series.forEach(function (s) {
    var y = s.axis === "right" ? yR : yL;
    var line = d3.line().x(d => x(d[0])).y(d => y(d[1]));
    if (s.step) line.curve(d3.curveStepAfter);
    g.append("path").datum(s.data)
      .attr("fill", "none").attr("stroke", s.color).attr("stroke-width", s.width)
      .attr("stroke-linejoin", "round").attr("d", line);
  });

  // legend box
  var lg = svg.append("g").attr("class", "legend");
  lg.append("rect").attr("x", p.legend.x).attr("y", p.legend.y)
    .attr("width", p.legend.w).attr("height", p.legend.h).attr("fill", "#fbd5b5");
  p.legend.items.forEach(function (it) {
    lg.append("line").attr("x1", p.legend.lineX[0]).attr("x2", p.legend.lineX[1])
      .attr("y1", it.y).attr("y2", it.y).attr("stroke", it.color).attr("stroke-width", it.width);
    lg.append("text").attr("x", p.legend.textX).attr("y", it.y)
      .attr("dominant-baseline", "central").style("font-size", p.legend.size + "px")
      .attr("textLength", it.len).attr("lengthAdjust", "spacingAndGlyphs")
      .text(it.label);
  });
}

var pctFmt = d => d + "%";
var lastLiab = liabilitySteps[liabilitySteps.length - 1][1];

var panels = [
  { left: 66, right: 1207, top: 14.2, bottom: 581.7, gridEnd: 1212,
    leftDomain: [0, 45], leftStep: 5, leftFmt: pctFmt,
    rightDomain: [0, 900], rightStep: 100, rightFmt: d3.format("d"),
    series: [
      { data: stockPrice, axis: "right", color: "#000000", width: 2.6 },
      { data: defaultProb, color: "#ff0000", width: 3.2 }
    ],
    legend: { x: 76, y: 32, w: 475, h: 145, lineX: [85, 122], textX: 126, size: 31,
      items: [
        { label: "左軸:推定デフォルト確率 [%]", color: "#ff0000", width: 3.5, y: 63, len: 413 },
        { label: "右軸:修正株価 [円]", color: "#000000", width: 2.5, y: 136, len: 272 }
      ] } },
  { left: 63, right: 1208, top: 618.7, bottom: 1077, gridEnd: 1208,
    leftDomain: [0, 140], leftStep: 20, leftFmt: pctFmt,
    series: [
      { data: equityVol, color: "#0070c0", width: 2.2 },
      { data: assetVol, color: "#e46c0a", width: 2.2 }
    ],
    legend: { x: 81, y: 641, w: 573, h: 96, lineX: [97, 134], textX: 138, size: 20,
      items: [
        { label: "株式収益率ボラティリティ（NPM推定値） [%/year]", color: "#0070c0", width: 2.5, y: 663, len: 453 },
        { label: "企業資産収益率ボラティリティ（収束計算後） [%/year]", color: "#e46c0a", width: 2.5, y: 710, len: 496 }
      ] } },
  { left: 61, right: 1210, top: 1122, bottom: 1507.7, gridEnd: 1212,
    leftDomain: [0, 10], leftStep: 1, leftFmt: pctFmt,
    series: [
      { data: equityRet, color: "#4f6228", width: 2.2 },
      { data: assetRet, color: "#ffc000", width: 2.2 }
    ],
    legend: { x: 630, y: 1105, w: 587, h: 97, lineX: [717, 752], textX: 757, size: 20,
      items: [
        { label: "株式期待収益率（NPM推定値） [%]", color: "#4f6228", width: 2.5, y: 1127, len: 327 },
        { label: "企業資産期待収益率（収束計算後） [%]", color: "#ffc000", width: 2.5, y: 1173, len: 371 }
      ] } },
  { left: 61, right: 1210, top: 1531.7, bottom: 1944, gridEnd: 1207, pad: 16, dateAxis: true,
    leftDomain: [0, 7000000], leftStep: 1000000, leftFmt: d3.format(","),
    rightDomain: [0, 600000], rightStep: 100000, rightFmt: d3.format(","),
    series: [
      { data: marketCap.map(d => [d[0], d[1] * 1e6]), color: "#0070c0", width: 2.2 },
      { data: liabilitySteps.map(d => [d[0], d[1] * 1e6]).concat([[nDays - 1, lastLiab * 1e6]]), step: true, color: "#e46c0a", width: 2.2 },
      { data: assetValue.map(d => [d[0], d[1] * 1e6]), color: "#77933c", width: 2.2 },
      { data: expectedLoss.map(d => [d[0], d[1] * 1000]), axis: "right", color: "#632523", width: 3.2 }
    ],
    legend: { x: 129.5, y: 1540, w: 515.5, h: 172, lineX: [164, 201], textX: 205, size: 20,
      items: [
        { label: "左軸:時価総額 [百万円]", color: "#0070c0", width: 2.5, y: 1560, len: 226 },
        { label: "左軸:負債額 [百万円]", color: "#e46c0a", width: 2.5, y: 1603, len: 204 },
        { label: "左軸:企業資産価値（収束計算後） [百万円]", color: "#77933c", width: 2.5, y: 1645, len: 403 },
        { label: "右軸:期待損失額 [百万円]", color: "#632523", width: 4, y: 1688, len: 248 }
      ] } }
];

panels.forEach(drawPanel);
</script>
</body>
</html>
